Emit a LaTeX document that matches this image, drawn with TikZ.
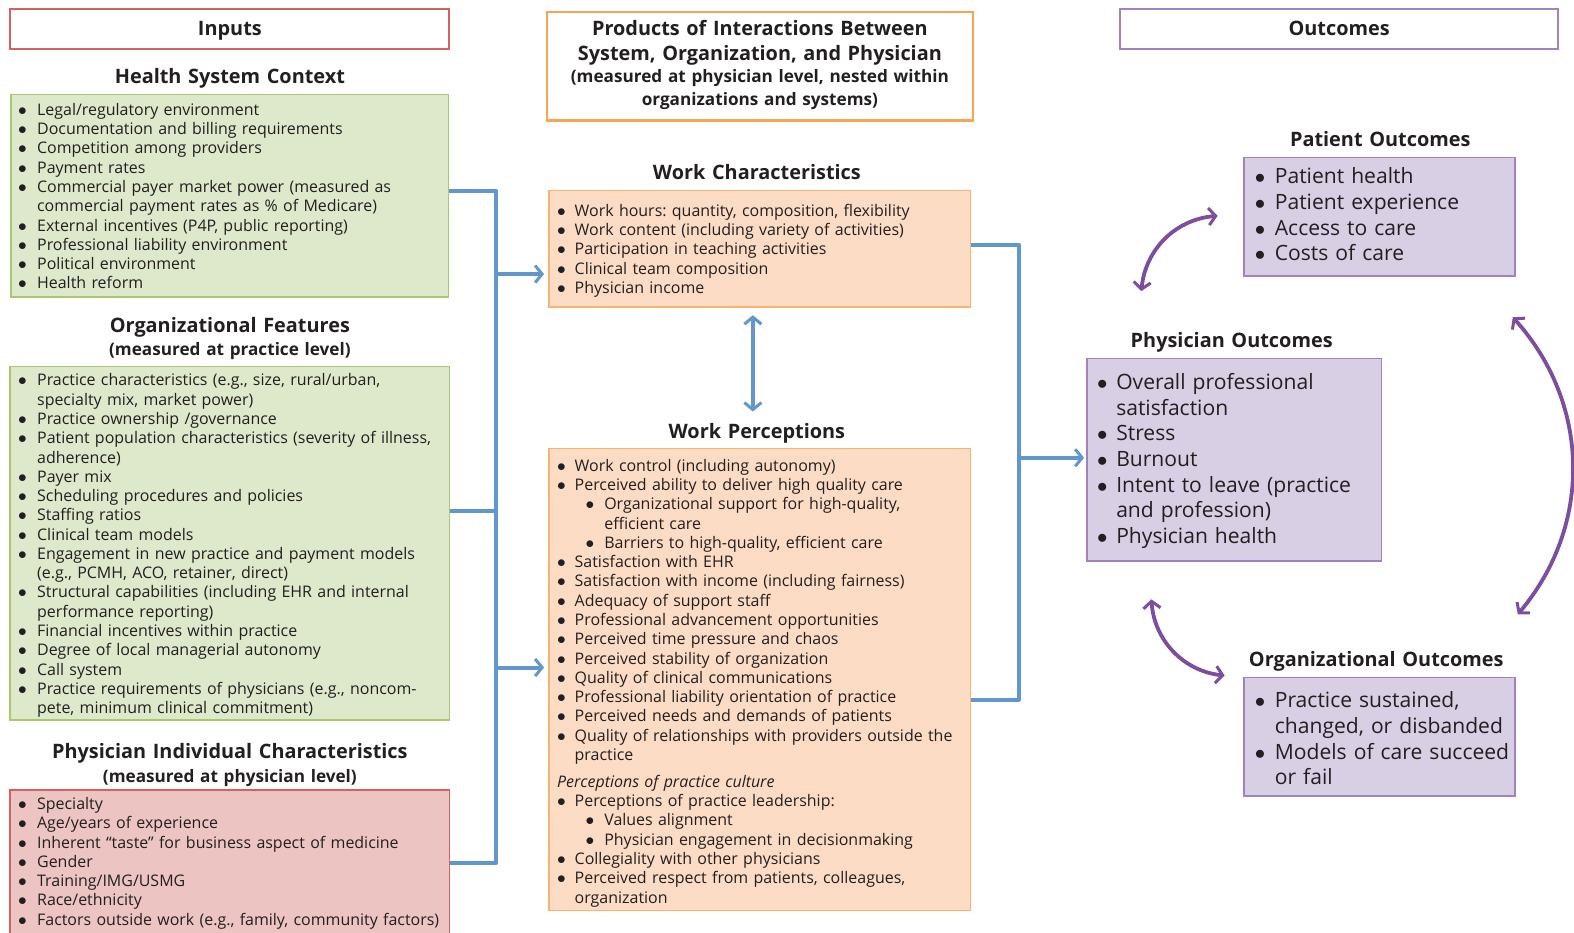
\documentclass[tikz,border=0pt]{standalone}
\usepackage{fontspec}
\setmainfont{Open Sans}
\usetikzlibrary{arrows.meta}
\frenchspacing
\definecolor{txt}{HTML}{231F20}
\definecolor{bl}{RGB}{98,151,206}
\definecolor{pu}{RGB}{123,78,160}
\definecolor{gfill}{HTML}{DEE8CB}
\definecolor{gline}{HTML}{AAC86E}
\definecolor{rfill}{HTML}{ECC4C2}
\definecolor{rline}{HTML}{D6605C}
\definecolor{ofill}{HTML}{FCDCC4}
\definecolor{oline}{HTML}{F8B46E}
\definecolor{oline2}{HTML}{F7A550}
\definecolor{pfill}{HTML}{D8CFE4}
\definecolor{pline}{HTML}{A082BE}
\newlength\bw
\setlength\bw{19pt}
\newcommand\bul{\raisebox{0pt}{$\bullet$}}
\newcommand\bi[1]{\hangindent=\bw\hangafter=1\noindent\makebox[\bw][l]{\bul}#1\par}
\newcommand\sbi[1]{\hangindent=47pt\hangafter=1\noindent\hspace*{28.5pt}\makebox[18.5pt][l]{\bul}#1\par}
\begin{document}
\begin{tikzpicture}[x=1pt,y=-1pt,
  box/.style={draw, line width=1.5pt, inner sep=0pt, outer sep=0pt, anchor=north west},
  tx/.style={inner sep=0pt, outer sep=0pt, anchor=base west, align=left, text=txt,
     font=\fontsize{15.9}{19.2}\selectfont},
  txl/.style={inner sep=0pt, outer sep=0pt, anchor=base west, align=left, text=txt,
     font=\fontsize{21}{25.6}\selectfont},
  hd/.style={inner sep=0pt, outer sep=0pt, anchor=base, align=center, text=txt, text width=440pt,
     font=\bfseries\fontsize{19.8}{25}\selectfont},
  sub/.style={inner sep=0pt, outer sep=0pt, anchor=base, align=center, text=txt, text width=440pt,
     font=\bfseries\fontsize{17.1}{23}\selectfont},
  bline/.style={draw=bl, line width=4pt, line join=round},
  barrow/.style={draw=bl, line width=4pt, -{Straight Barb[length=7pt,width=17pt,line width=3pt]}},
  parrow/.style={draw=pu, line width=3.8pt, {Straight Barb[length=7pt,width=17pt,line width=3pt]}-{Straight Barb[length=7pt,width=17pt,line width=3pt]}}
]
\useasboundingbox (0,0) rectangle (1568,929);
% header boxes
\node[box, draw=rline, line width=2.2pt, minimum width=437pt, minimum height=40pt] (inp) at (10,9) {};
\node[hd] (inpt) at (229,35) {Inputs};
\node[box, draw=oline2, line width=2.2pt, minimum width=424pt, minimum height=108pt] (prod) at (545,12) {};
\node[hd] (prodt) at (757,35) {Products of Interactions Between\\System, Organization, and Physician};
\node[sub] (prods) at (757,82) {(measured at physician level, nested within\\organizations and systems)};
\node[box, draw=pline, line width=2.2pt, minimum width=436pt, minimum height=40pt] (outc) at (1116,9) {};
\node[hd] (outct) at (1334,35) {Outcomes};

% Health system context
\node[hd] (hsch) at (229,83) {Health System Context};
\node[box, draw=gline, fill=gfill, minimum width=436pt, minimum height=202pt] (g1) at (11,94) {};
\node[tx, text width=425pt] (g1t) at (18,115) {%
\bi{Legal/regulatory environment}
\bi{Documentation and billing requirements}
\bi{Competition among providers}
\bi{Payment rates}
\bi{Commercial payer market power (measured as\newline commercial payment rates as \% of Medicare)}
\bi{External incentives (P4P, public reporting)}
\bi{Professional liability environment}
\bi{Political environment}
\bi{Health reform}};

% Organizational features
\node[hd] (ofh) at (229,331) {Organizational Features};
\node[sub] (ofs) at (229,354) {(measured at practice level)};
\node[box, draw=gline, fill=gfill, minimum width=438pt, minimum height=352pt] (g2) at (10,365) {};
\node[tx, text width=428pt] (g2t) at (18,384.5) {%
\bi{Practice characteristics (e.g., size, rural/urban,\newline specialty mix, market power)}
\bi{Practice ownership /governance}
\bi{Patient population characteristics (severity of illness,\newline adherence)}
\bi{Payer mix}
\bi{Scheduling procedures and policies}
\bi{Staffing ratios}
\bi{Clinical team models}
\bi{Engagement in new practice and payment models\newline (e.g., PCMH, ACO, retainer, direct)}
\bi{Structural capabilities (including EHR and internal\newline performance reporting)}
\bi{Financial incentives within practice}
\bi{Degree of local managerial autonomy}
\bi{Call system}
\bi{Practice requirements of physicians (e.g., noncom-\newline pete, minimum clinical commitment)}};

% Physician individual characteristics
\node[hd] (pich) at (229,756) {Physician Individual Characteristics};
\node[sub] (pics) at (229,780) {(measured at physician level)};
\node[box, draw=rline, fill=rfill, minimum width=438pt, minimum height=160pt] (red) at (10,787) {};
\node[tx, text width=428pt] (redt) at (18,806.5) {%
\bi{Specialty}
\bi{Age/years of experience}
\bi{Inherent “taste” for business aspect of medicine}
\bi{Gender}
\bi{Training/IMG/USMG}
\bi{Race/ethnicity}
\bi{Factors outside work (e.g., family, community factors)}};

% Work characteristics
\node[hd] (wch) at (754,179) {Work Characteristics};
\node[box, draw=oline, fill=ofill, minimum width=420pt, minimum height=116pt] (wc) at (547,190) {};
\node[tx, text width=410pt] (wct) at (555,215.5) {%
\setlength\bw{17.5pt}%
\bi{Work hours: quantity, composition, flexibility}
\bi{Work content (including variety of activities)}
\bi{Participation in teaching activities}
\bi{Clinical team composition}
\bi{Physician income}};

% Work perceptions
\node[hd] (wph) at (754,437) {Work Perceptions};
\node[box, draw=oline, fill=ofill, minimum width=420pt, minimum height=460pt] (wp) at (547,447) {};
\node[tx, text width=410pt] (wpt) at (555,469.5) {%
\setlength\bw{17.5pt}%
\bi{Work control (including autonomy)}
\bi{Perceived ability to deliver high quality care}
\sbi{Organizational support for high-quality,\newline efficient care}
\sbi{Barriers to high-quality, efficient care}
\bi{Satisfaction with EHR}
\bi{Satisfaction with income (including fairness)}
\bi{Adequacy of support staff}
\bi{Professional advancement opportunities}
\bi{Perceived time pressure and chaos}
\bi{Perceived stability of organization}
\bi{Quality of clinical communications}
\bi{Professional liability orientation of practice}
\bi{Perceived needs and demands of patients}
\bi{Quality of relationships with providers outside the\newline practice}
\vspace{7.7pt}\noindent\textit{Perceptions of practice culture}\par
\bi{Perceptions of practice leadership:}
\sbi{Values alignment}
\sbi{Physician engagement in decisionmaking}
\bi{Collegiality with other physicians}
\bi{Perceived respect from patients, colleagues,\newline organization}};

% Patient outcomes
\node[hd] (poh) at (1375,146) {Patient Outcomes};
\node[box, draw=pline, fill=pfill, minimum width=270pt, minimum height=118pt] (pat) at (1239,157) {};
\node[txl, text width=270pt] (patt) at (1250,183) {%
\setlength\bw{20pt}%
\bi{Patient health}
\bi{Patient experience}
\bi{Access to care}
\bi{Costs of care}};

% Physician outcomes
\node[hd] (phh) at (1227,346) {Physician Outcomes};
\node[box, draw=pline, fill=pfill, minimum width=293pt, minimum height=202pt] (phys) at (1083,357) {};
\node[txl, text width=290pt] (physt) at (1093,388) {%
\setlength\bw{19pt}%
\bi{Overall professional\newline satisfaction}
\bi{Stress}
\bi{Burnout}
\bi{Intent to leave (practice\newline and profession)}
\bi{Physician health}};

% Organizational outcomes
\node[hd] (ooh) at (1371,664) {Organizational Outcomes};
\node[box, draw=pline, fill=pfill, minimum width=270pt, minimum height=118pt] (org) at (1239,675) {};
\node[txl, text width=290pt] (orgt) at (1250,705) {%
\setlength\bw{20pt}%
\bi{Practice sustained,\newline changed, or disbanded}
\bi{Models of care succeed\newline or fail}};

% blue connectors, left bus
\coordinate (b1) at (494,190);
\coordinate (b2) at (494,509);
\coordinate (b3) at (494,860);
\coordinate (bA) at (494,273);
\coordinate (bB) at (494,665);
\draw[bline] (g1.east |- b1) -- (b1) -- (b3) -- (red.east |- b3);
\draw[bline] (g2.east |- b2) -- (b2);
\draw[barrow, shorten >=5pt] (bA) -- (wc.west |- bA);
\draw[barrow, shorten >=5pt] (bB) -- (wp.west |- bB);
% right bus
\coordinate (c1) at (1015,244);
\coordinate (c2) at (1015,697);
\coordinate (cA) at (1015,456);
\draw[bline] (wc.east |- c1) -- (c1) -- (c2) -- (wp.east |- c2);
\draw[barrow, shorten >=3pt] (cA) -- (phys.west |- cA);
% vertical double arrow
\coordinate (vx) at (750,0);
\draw[draw=bl, line width=4pt, {Straight Barb[length=7pt,width=17pt,line width=3pt]}-{Straight Barb[length=7pt,width=17pt,line width=3pt]}, shorten <=8pt, shorten >=12pt] (wc.south -| vx) -- (wph.north -| vx);

% purple arrows
\coordinate (p1) at (1137,290);
\coordinate (p2) at (1213,215);
\coordinate (p3) at (1507,316);
\coordinate (p4) at (1512,612);
\coordinate (p5) at (1147,597);
\coordinate (p6) at (1220,673);
\draw[parrow] (p1) to[bend left=40] (p2);
\draw[parrow] (p3) to[bend left=41] (p4);
\draw[parrow] (p5) to[bend right=40] (p6);
\end{tikzpicture}
\end{document}
